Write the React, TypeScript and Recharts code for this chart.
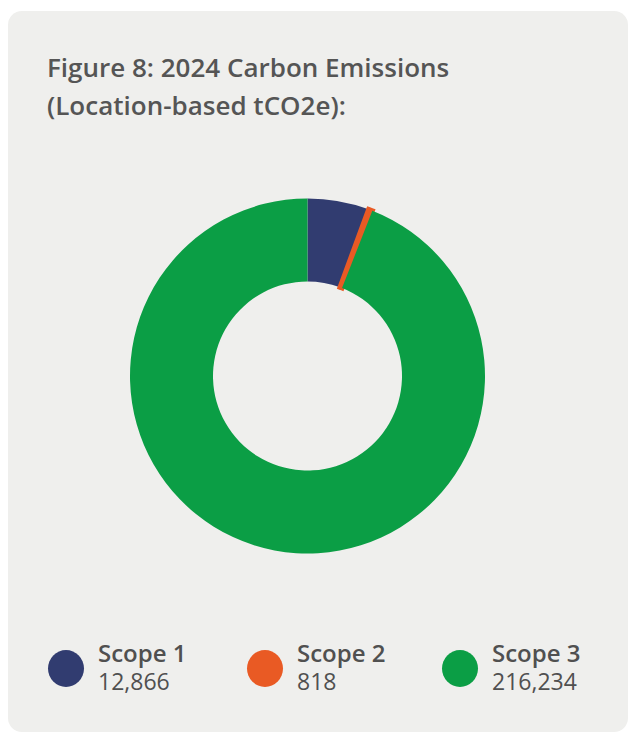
import { PieChart, Pie, Cell } from 'recharts';

const SCOPES = ['Scope 1', 'Scope 2', 'Scope 3'];
const EMISSIONS = [12866, 818, 216234];
const COLORS = ['#313c70', '#e95a24', '#0b9e45'];
const LEGEND_X = [48, 247, 442];

const data = SCOPES.map((name, i) => ({ name, value: EMISSIONS[i] }));

const FONT = '"Open Sans", "Noto Sans", sans-serif';

export default function App() {
  return (
    <div style={{ position: 'fixed', left: 0, top: 0, width: 629, height: 735, background: '#ffffff', fontFamily: FONT }}>
      <div
        style={{
          position: 'absolute',
          left: 8,
          top: 11,
          width: 620,
          height: 721,
          background: '#efefed',
          borderRadius: 14,
        }}
      />
      <div
        style={{
          position: 'absolute',
          left: 47,
          top: 48,
          fontSize: 26,
          lineHeight: '38px',
          fontWeight: 600,
          color: '#555555',
          whiteSpace: 'nowrap',
        }}
      >
        Figure 8: 2024 Carbon Emissions
        <br />
        (Location-based tCO2e):
      </div>
      <div style={{ position: 'absolute', left: 0, top: 0 }}>
        <PieChart width={629} height={735}>
          <Pie
            data={data}
            dataKey="value"
            nameKey="name"
            cx={302.5}
            cy={371}
            innerRadius={94.5}
            outerRadius={177.5}
            startAngle={90}
            endAngle={-270}
            stroke="none"
            isAnimationActive={false}
          >
            {data.map((d, i) => (
              <Cell
                key={d.name}
                fill={COLORS[i]}
                stroke={i === 1 ? COLORS[i] : 'none'}
                strokeWidth={i === 1 ? 5 : 0}
              />
            ))}
          </Pie>
        </PieChart>
      </div>
      {data.map((d, i) => (
        <div key={d.name}>
          <div
            style={{
              position: 'absolute',
              left: LEGEND_X[i],
              top: 650,
              width: 36,
              height: 37,
              borderRadius: '50%',
              background: COLORS[i],
            }}
          />
          <div
            style={{
              position: 'absolute',
              left: LEGEND_X[i] + 50,
              top: 639,
              color: '#505050',
              whiteSpace: 'nowrap',
            }}
          >
            <div style={{ fontWeight: 600, fontSize: 24, lineHeight: '28px' }}>{d.name}</div>
            <div style={{ fontWeight: 400, fontSize: 23, lineHeight: '28px' }}>{d.value.toLocaleString('en-US')}</div>
          </div>
        </div>
      ))}
    </div>
  );
}
